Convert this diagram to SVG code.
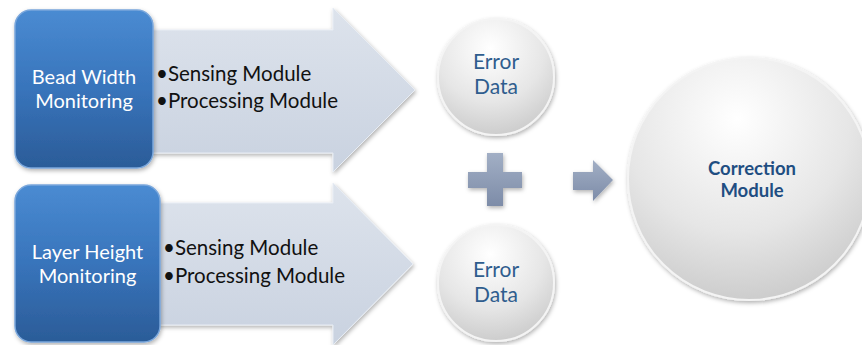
<svg xmlns="http://www.w3.org/2000/svg" width="862" height="345" viewBox="0 0 862 345">
<defs>
  <linearGradient id="gBlue" x1="0" y1="0" x2="0" y2="1">
    <stop offset="0" stop-color="#4a8bd2"/>
    <stop offset="0.5" stop-color="#3874bb"/>
    <stop offset="1" stop-color="#2b5c98"/>
  </linearGradient>
  <linearGradient id="gArrow" x1="0" y1="0" x2="0" y2="1">
    <stop offset="0" stop-color="#dde3ec"/>
    <stop offset="1" stop-color="#c9d2e0"/>
  </linearGradient>
  <radialGradient id="gCircle" cx="0.45" cy="0.25" r="0.85">
    <stop offset="0" stop-color="#ffffff"/>
    <stop offset="0.55" stop-color="#e6e6e6"/>
    <stop offset="1" stop-color="#c4c4c4"/>
  </radialGradient>
  <linearGradient id="gSym" x1="0" y1="0" x2="0" y2="1">
    <stop offset="0" stop-color="#a2afc5"/>
    <stop offset="1" stop-color="#7d8ca8"/>
  </linearGradient>
  <filter id="sh" x="-20%" y="-20%" width="140%" height="140%">
    <feDropShadow dx="1" dy="2" stdDeviation="2" flood-color="#000" flood-opacity="0.3"/>
  </filter>
</defs>
<style>
  .box { fill: url(#gBlue); stroke: #7aa7dc; stroke-width: 1.5; filter: url(#sh); }
  .arrow { fill: url(#gArrow); stroke: #e8edf4; stroke-width: 1; filter: url(#sh); }
  .circ { fill: url(#gCircle); stroke: #f4f4f4; stroke-width: 2; filter: url(#sh); }
  .sym { fill: url(#gSym); filter: url(#sh); }
  .wt { font-family: Lato, "Open Sans", "Liberation Sans", sans-serif; font-size: 20px; fill: #ffffff; text-anchor: middle; }
  .bt { font-family: Lato, "Open Sans", "Liberation Sans", sans-serif; font-size: 20.5px; fill: #111111; }
  .et { font-family: Lato, "Open Sans", "Liberation Sans", sans-serif; font-size: 21px; fill: #2f5d8e; text-anchor: middle; }
  .ct { font-family: Lato, "Open Sans", "Liberation Sans", sans-serif; font-size: 18.5px; font-weight: bold; fill: #1f4e82; text-anchor: middle; }
</style>

<g id="arrow-top">
  <polygon class="arrow" points="150,30 333,30 333,8 415,90 333,172 333,153 150,153"/>
  <text class="bt" x="156" y="81">•Sensing Module</text>
  <text class="bt" x="156" y="108">•Processing Module</text>
</g>
<g id="bead-width">
  <rect class="box" x="15" y="10" width="138" height="158" rx="16"/>
  <text class="wt" x="84" y="84">Bead Width</text>
  <text class="wt" x="84" y="108">Monitoring</text>
</g>

<g id="arrow-bottom">
  <polygon class="arrow" points="157,203 333,203 333,183 413,264 333,345 333,325 157,325"/>
  <text class="bt" x="163" y="255">•Sensing Module</text>
  <text class="bt" x="163" y="283">•Processing Module</text>
</g>
<g id="layer-height">
  <rect class="box" x="15" y="185" width="145" height="157" rx="16"/>
  <text class="wt" x="87.5" y="259">Layer Height</text>
  <text class="wt" x="87.5" y="283">Monitoring</text>
</g>

<g id="error-data-top">
  <circle class="circ" cx="496" cy="77" r="58"/>
  <text class="et" x="496" y="69">Error</text>
  <text class="et" x="496" y="94">Data</text>
</g>
<g id="error-data-bottom">
  <circle class="circ" cx="496" cy="283" r="58"/>
  <text class="et" x="496" y="277">Error</text>
  <text class="et" x="496" y="302">Data</text>
</g>

<g id="connectors">
  <polygon class="sym" points="487,153 503,153 503,172 522,172 522,188 503,188 503,206 487,206 487,188 468,188 468,172 487,172"/>
  <polygon class="sym" points="573,172 593,172 593,160 613,180 593,201 593,190 573,190"/>
</g>

<g id="correction-module">
  <circle class="circ" cx="749" cy="179" r="121"/>
  <text class="ct" x="752" y="175">Correction</text>
  <text class="ct" x="752" y="197">Module</text>
</g>
</svg>
